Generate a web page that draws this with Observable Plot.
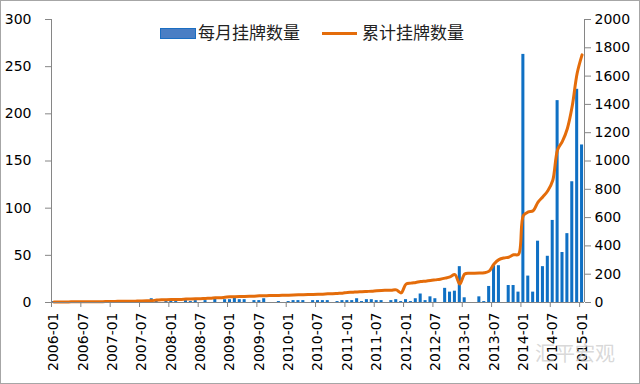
<!DOCTYPE html>
<html><head><meta charset="utf-8">
<script src="https://cdn.jsdelivr.net/npm/d3@7"></script>
<script src="https://cdn.jsdelivr.net/npm/@observablehq/plot@0.6"></script>
<style>
body{margin:0;background:#fff}
#wrap{position:relative;width:640px;height:384px;overflow:hidden;background:#fff}
#border{position:absolute;left:0;top:0;width:640px;height:384px;box-sizing:border-box;border:1px solid #a6a6a6;pointer-events:none}
.lg{position:absolute;font-family:"Noto Sans CJK SC";font-size:17px;line-height:20px;color:#222;white-space:nowrap}
.wm{position:absolute;left:535px;top:338px;font-family:"Noto Sans CJK SC";font-size:20px;color:rgba(200,200,200,0.7)}
</style></head>
<body>
<div id="wrap"></div>
<script>
// categories: monthly from 2006-01 to 2015-01
const months = d3.utcMonth.range(new Date(Date.UTC(2006,0,1)), new Date(Date.UTC(2015,1,1))).map(d3.utcFormat("%Y-%m"));

// 每月挂牌数量 (left axis)
const monthly = [
  1,0,1,0,0,0,1,0,0,1,0,0,          // 2006
  1,0,1,0,1,0,1,1,4,2,0,1,          // 2007
  2,1,0,2,1,2,0,2,0,4,0,3,          // 2008
  3,5,3,3,0,2,2,4,0,0,1,0,          // 2009
  1,2,2,2,0,2,2,2,2,0,1,2,          // 2010
  2,2,4,1,3,3,2,2,0,2,3,1,          // 2011
  3,1,4,9,2,6,4,0,15,11,12,38,      // 2012
  5,0,0,6,1,17,39,39,0,18,18,11,    // 2013
  263,28,11,65,38,49,87,214,53,73,128,226, // 2014
  167                               // 2015-01
];

// 累计挂牌数量 (right axis)
const cumulative = [
  4,4,4,4,5,5,5,5,6,6,6,7,
  7,8,8,9,9,10,11,12,13,17,19,20,
  21,22,22,24,25,26,27,29,30,33,34,37,
  40,41,42,43,44,45,47,48,49,50,50,51,
  52,53,54,55,56,57,58,59,61,62,64,66,
  71,72,75,76,78,80,83,85,86,87,89,68,
  130,137,142,148,151,155,160,165,172,181,197,130,
  202,207,207,208,210,222,272,303,315,320,337,340,
  615,640,648,710,748,790,862,1080,1140,1230,1390,1620,
  1750
];

const leftTicks = [0,50,100,150,200,250,300];
const rightTicks = [0,200,400,600,800,1000,1200,1400,1600,1800,2000];
const labelMonths = months.filter((m,i) => i % 6 === 0);
const seriesNames = ["每月挂牌数量","累计挂牌数量"];

const ratio = 300/2000;
const data = months.map((m,i) => ({month:m, monthly:monthly[i], cum:cumulative[i]}));

const W = 640, H = 384, mL = 51, mR = 56, mT = 19, mB = 82;
const step = (W - mL - mR) / months.length;
const axisColor = "#868686";
const font = "DejaVu Sans";

const chart = Plot.plot({
  width: W, height: H,
  marginLeft: mL, marginRight: mR, marginTop: mT, marginBottom: mB,
  style: {fontFamily: font, fontSize: "14px", color: "#000", background: "transparent"},
  x: {type: "band", domain: months, paddingInner: 0.38, paddingOuter: 0.19, axis: null},
  y: {domain: [0,300], axis: null},
  marks: [
    Plot.barY(data, {x: "month", y: "monthly", fill: "#0F70C4"}),
    Plot.line(data, {x: "month", y: d => d.cum * ratio, stroke: "#E46C0A", strokeWidth: 3, curve: "catmull-rom"}),
    // left axis
    Plot.ruleX([months[0]], {x: d => d, dx: -step/2, stroke: axisColor}),
    Plot.axisY({anchor: "left", label: null, ticks: leftTicks, tickSize: 6, tickPadding: 14, stroke: axisColor, fontSize: 14, fill: "#000"}),
    // right axis
    Plot.ruleX([months[months.length-1]], {x: d => d, dx: step/2, stroke: axisColor}),
    Plot.axisY({anchor: "right", label: null, ticks: rightTicks.map(t => t*ratio), tickFormat: d => String(Math.round(d/ratio)), tickSize: 6, tickPadding: 4, stroke: axisColor, fontSize: 14, fill: "#000"}),
    // bottom axis
    Plot.ruleY([0], {stroke: axisColor}),
    Plot.axisX({ticks: labelMonths, label: null, tickSize: 5, dx: -step/2, tickFormat: () => "", stroke: axisColor}),
    Plot.axisX({ticks: labelMonths, label: null, tickSize: 0, tickPadding: 10, tickRotate: -90, fontSize: 14, fill: "#000"})
  ]
});

const wrap = document.getElementById("wrap");
wrap.appendChild(chart);

// legend (overlay inside plot area, as in the reference)
function addEl(html){ const d = document.createElement("div"); d.innerHTML = html; wrap.appendChild(d.firstChild); }
addEl(`<div style="position:absolute;left:160px;top:28px;width:34px;height:9px;background:#4a7ec4;border:1px solid #1b6ec2"></div>`);
addEl(`<div class="lg" style="left:198px;top:22px">${seriesNames[0]}</div>`);
addEl(`<div style="position:absolute;left:322px;top:32px;width:35px;height:3px;background:#E46C0A"></div>`);
addEl(`<div class="lg" style="left:362px;top:22px">${seriesNames[1]}</div>`);
addEl(`<div class="wm">汇平宏观</div>`);
addEl(`<div id="border"></div>`);
</script>
</body></html>
